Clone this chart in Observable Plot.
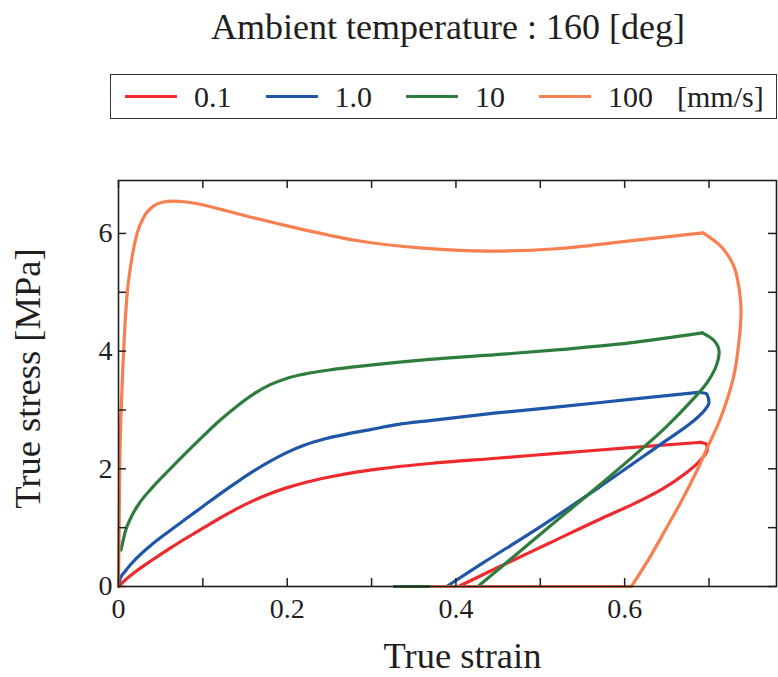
<!DOCTYPE html>
<html>
<head>
<meta charset="utf-8">
<script src="https://cdn.jsdelivr.net/npm/d3@7"></script>
<script src="https://cdn.jsdelivr.net/npm/@observablehq/plot@0.6"></script>
<style>
  html, body { margin: 0; padding: 0; background: #fff; }
  body { width: 778px; height: 677px; position: relative; overflow: hidden; font-family: "Liberation Serif", "Times New Roman", serif; color: #221e1f; }
  #title { position: absolute; left: 118px; top: 7px; width: 660px; text-align: center; font-size: 36px; line-height: 40px; }
  #legend { position: absolute; left: 110px; top: 74px; width: 667px; height: 45px; box-sizing: border-box; border: 1.5px solid #333; display: flex; align-items: center; padding-left: 14px; font-size: 30px; }
  .item { display: flex; align-items: center; margin-right: 34px; }
  .sw { width: 52px; height: 3px; margin-right: 17px; }
  .unit { margin-left: -10px; }
  #chart { position: absolute; left: 0; top: 134px; }
</style>
</head>
<body>
<div id="title">Ambient temperature : 160 [deg]</div>
<div id="legend"></div>
<div id="chart"></div>
<script>
// ---- data ----
const speeds = ["0.1", "1.0", "10", "100"];
const colors = ["#ee2a2e", "#1f56a8", "#2e7d3e", "#f77f50"];
const unitLabel = "[mm/s]";

// loading branches (strain increasing)
const load_strain_01 = [0, 0.008, 0.020, 0.040, 0.060, 0.080, 0.100, 0.120, 0.140, 0.160, 0.180, 0.200, 0.225, 0.250, 0.280, 0.310, 0.369, 0.448, 0.527, 0.606, 0.690];
const load_stress_01 = [0, 0.11, 0.25, 0.45, 0.64, 0.82, 0.99, 1.16, 1.32, 1.46, 1.58, 1.68, 1.78, 1.86, 1.94, 2.00, 2.09, 2.18, 2.27, 2.36, 2.45];
const load_strain_1 = [0, 0.002, 0.008, 0.020, 0.040, 0.060, 0.080, 0.100, 0.120, 0.140, 0.160, 0.180, 0.200, 0.220, 0.245, 0.270, 0.300, 0.330, 0.369, 0.448, 0.527, 0.606, 0.688];
const load_stress_1 = [0, 0.13, 0.26, 0.46, 0.72, 0.94, 1.15, 1.36, 1.57, 1.77, 1.96, 2.13, 2.28, 2.40, 2.51, 2.59, 2.67, 2.75, 2.82, 2.95, 3.06, 3.18, 3.30];
const load_strain_10 = [0.003, 0.008, 0.015, 0.025, 0.040, 0.060, 0.080, 0.100, 0.120, 0.140, 0.160, 0.180, 0.200, 0.220, 0.250, 0.290, 0.330, 0.369, 0.448, 0.527, 0.606, 0.692];
const load_stress_10 = [0.62, 0.93, 1.18, 1.42, 1.68, 1.98, 2.27, 2.55, 2.82, 3.06, 3.27, 3.43, 3.54, 3.61, 3.68, 3.75, 3.81, 3.86, 3.94, 4.03, 4.14, 4.31];
const load_strain_100 = [0, 0.0015, 0.004, 0.0063, 0.0103, 0.0142, 0.022, 0.030, 0.042, 0.052, 0.065, 0.080, 0.095, 0.109, 0.128, 0.148, 0.188, 0.227, 0.282, 0.361, 0.440, 0.519, 0.598, 0.693];
const load_stress_100 = [0, 2.0, 3.3, 4.07, 4.98, 5.43, 6.0, 6.28, 6.47, 6.53, 6.55, 6.535, 6.50, 6.455, 6.385, 6.31, 6.17, 6.04, 5.88, 5.75, 5.70, 5.74, 5.86, 6.01];

// unloading branches (stress decreasing from the tip to zero)
const unload_strain_01 = [0.690, 0.697, 0.698, 0.690, 0.672, 0.645, 0.610, 0.570, 0.511, 0.452, 0.403];
const unload_stress_01 = [2.45, 2.42, 2.33, 2.15, 1.92, 1.66, 1.40, 1.14, 0.74, 0.34, 0];
const unload_strain_1 = [0.688, 0.697, 0.700, 0.695, 0.677, 0.649, 0.570, 0.492, 0.432, 0.389];
const unload_stress_1 = [3.30, 3.28, 3.13, 3.00, 2.76, 2.48, 1.69, 0.94, 0.40, 0];
const unload_strain_10 = [0.692, 0.706, 0.712, 0.708, 0.697, 0.677, 0.649, 0.622, 0.570, 0.511, 0.452, 0.426];
const unload_stress_10 = [4.31, 4.18, 3.98, 3.73, 3.45, 3.12, 2.71, 2.36, 1.72, 1.02, 0.31, 0];
const unload_strain_100 = [0.693, 0.712, 0.728, 0.736, 0.738, 0.735, 0.730, 0.722, 0.712, 0.700, 0.685, 0.668, 0.649, 0.630, 0.608];
const unload_stress_100 = [6.01, 5.81, 5.49, 5.03, 4.69, 4.10, 3.62, 3.20, 2.80, 2.42, 1.95, 1.47, 0.98, 0.50, 0];

// strain where each zero-stress tail ends (null = no tail)
const tail_end = [null, 0.327, 0.330, 0.371];

const xTicks = [0, 0.1, 0.2, 0.3, 0.4, 0.5, 0.6, 0.7];
const xLabels = [0, 0.2, 0.4, 0.6];
const yTicks = [0, 1, 2, 3, 4, 5, 6];
const yLabels = [0, 2, 4, 6];
const xTitle = "True strain";
const yTitle = "True stress [MPa]";

// ---- build tables ----
const LX = [load_strain_01, load_strain_1, load_strain_10, load_strain_100];
const LY = [load_stress_01, load_stress_1, load_stress_10, load_stress_100];
const UX = [unload_strain_01, unload_strain_1, unload_strain_10, unload_strain_100];
const UY = [unload_stress_01, unload_stress_1, unload_stress_10, unload_stress_100];
const loadRows = [], unloadRows = [], tailRows = [];
speeds.forEach((s, i) => {
  LX[i].forEach((x, j) => loadRows.push({speed: s, strain: x, stress: LY[i][j]}));
  UX[i].forEach((x, j) => unloadRows.push({speed: s, strain: x, stress: UY[i][j]}));
  if (tail_end[i] != null) {
    const n = UX[i].length - 1;
    tailRows.push({speed: s, strain: UX[i][n], stress: UY[i][n]});
    tailRows.push({speed: s, strain: tail_end[i], stress: 0});
  }
});

// ---- legend ----
const legend = document.getElementById("legend");
speeds.forEach((s, i) => {
  const it = document.createElement("div");
  it.className = "item";
  it.innerHTML = `<div class="sw" style="background:${colors[i]}"></div><span>${s}</span>`;
  legend.appendChild(it);
});
const u = document.createElement("span");
u.className = "unit";
u.textContent = unitLabel;
legend.appendChild(u);

// ---- plot ----
const W = 778, H = 537, mt = 46, mb = 85, ml = 118, mr = 2;
const fh = H - mt - mb, fw = W - ml - mr, tl = 8;
const ink = "#221e1f";
const lineOpts = {x: "strain", y: "stress", z: "speed", stroke: "speed", strokeWidth: 3.2, strokeLinejoin: "round", strokeLinecap: "round"};

const chart = Plot.plot({
  width: W, height: H,
  marginTop: mt, marginBottom: mb, marginLeft: ml, marginRight: mr,
  style: {fontFamily: "'Liberation Serif', 'Times New Roman', serif", fontSize: "28px", color: ink, background: "white", overflow: "visible"},
  x: {domain: [0, 0.78], axis: null},
  y: {domain: [0, 6.9], axis: null},
  color: {domain: speeds, range: colors},
  marks: [
    Plot.line(loadRows, {...lineOpts, curve: "monotone-x"}),
    Plot.line(unloadRows, {...lineOpts, curve: "monotone-y"}),
    Plot.line(tailRows, {...lineOpts, curve: "linear"}),
    Plot.frame({stroke: ink, strokeWidth: 1.6}),
    Plot.ruleX(xTicks, {x: d => d, insetTop: fh - tl, stroke: ink, strokeWidth: 1.5}),
    Plot.ruleX(xTicks, {x: d => d, insetBottom: fh - tl, stroke: ink, strokeWidth: 1.5}),
    Plot.ruleY(yTicks, {y: d => d, insetRight: fw - tl, stroke: ink, strokeWidth: 1.5}),
    Plot.ruleY(yTicks, {y: d => d, insetLeft: fw - tl, stroke: ink, strokeWidth: 1.5}),
    Plot.axisX(xLabels, {anchor: "bottom", tickSize: 0, tickPadding: 12, label: null, tickFormat: d => String(d), fontSize: 28}),
    Plot.axisY(yLabels, {anchor: "left", tickSize: 0, tickPadding: 6, label: null, tickFormat: d => String(d), fontSize: 28}),
    Plot.text([xTitle], {frameAnchor: "bottom", textAnchor: "middle", dx: 15, dy: 70, lineAnchor: "middle", fontSize: 36.5, fill: ink}),
    Plot.text([yTitle], {frameAnchor: "left", textAnchor: "middle", dx: -90, dy: -5, rotate: -90, lineAnchor: "middle", fontSize: 36.5, fill: ink})
  ]
});
document.getElementById("chart").appendChild(chart);
</script>
</body>
</html>
